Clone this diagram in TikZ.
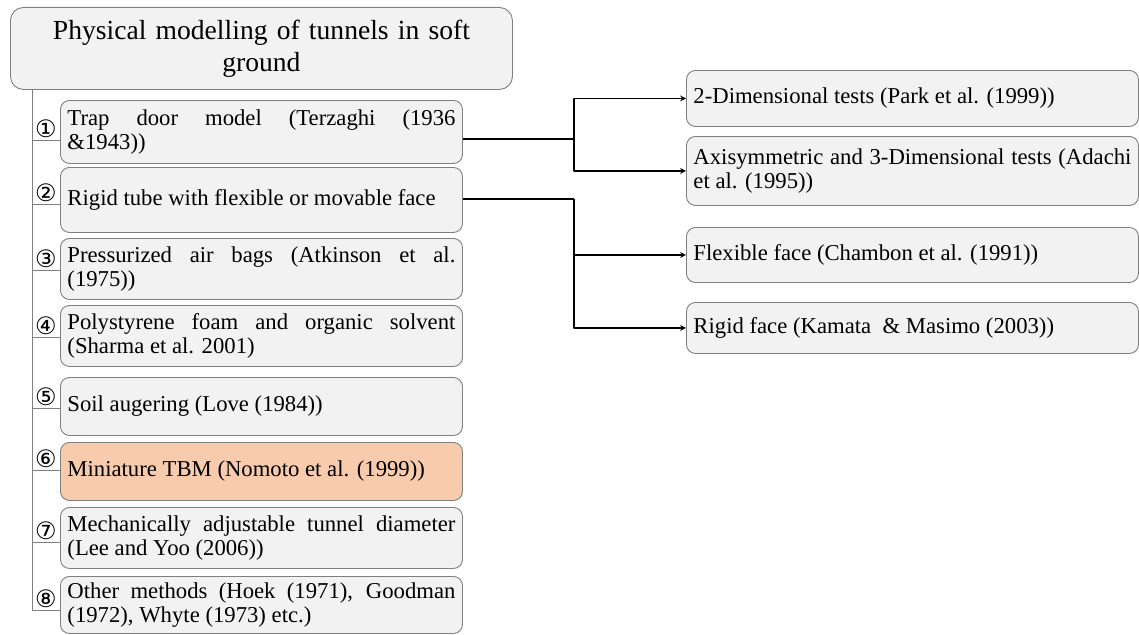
\documentclass[tikz,border=0pt]{standalone}
\usepackage{fontspec}
\setmainfont{Liberation Serif}
\newfontfamily\circfont{DejaVu Sans}
\usetikzlibrary{calc}
\definecolor{boxgray}{HTML}{F2F2F2}
\definecolor{edgegray}{HTML}{7F7F7F}
\definecolor{peach}{HTML}{F8CBAD}
\begin{document}
\begin{tikzpicture}[x=1pt,y=-1pt,>=stealth,line join=round,
    box/.style={draw=edgegray,fill=boxgray,line width=0.9pt,rounded corners=9pt,anchor=north west,
      align=justify,inner xsep=7pt,inner ysep=0pt,font=\fontsize{22.7}{24.5}\selectfont},
    titlebox/.style={box,rounded corners=13pt,align=center,text width=488pt,minimum height=82pt,
      font=\fontsize{27.6}{32}\selectfont},
    num/.style={inner sep=0pt,font=\circfont\fontsize{24}{24}\selectfont},
    tree/.style={draw=edgegray,line width=0.9pt},
    conn/.style={line width=1.6pt}]
  \useasboundingbox (0,0) rectangle (1139,634);
  % title
  \node[titlebox] (title) at (10,7) {Physical modelling of tunnels in soft\\ground};
  % methods
  \foreach \i/\t/\h/\ly/\c/\col/\txt in {
    1/100/63/140/①/boxgray/{Trap door model (Terzaghi (1936\linebreak \&1943))},
    2/167/65/204/②/boxgray/{Rigid tube with flexible or movable face},
    3/238/61/270/③/boxgray/{Pressurized air bags (Atkinson et al.\linebreak (1975))},
    4/305/61/337/④/boxgray/{Polystyrene foam and organic solvent\linebreak (Sharma et al. 2001)},
    5/377/58/408/⑤/boxgray/{Soil augering (Love (1984))},
    6/442/58/470/⑥/peach/{Miniature TBM (Nomoto et al. (1999))},
    7/507/61/542/⑦/boxgray/{Mechanically adjustable tunnel diameter\linebreak (Lee and Yoo (2006))},
    8/576/57/610/⑧/boxgray/{Other methods (Hoek (1971), Goodman\linebreak (1972), Whyte (1973) etc.)}}{
    \node[box,fill=\col,text width=388pt,minimum height=\h pt] (m\i) at (60,\t) {\txt};
    \coordinate (t\i) at (32,\ly);
    \draw[tree] (t\i) -- (t\i -| m\i.west);
    \node[num] (n\i) at (46,\ly-11) {\c};
  }
  \draw[tree] (title.south -| t1) -- (t8);
  % sub-methods
  \node[box,text width=438pt,minimum height=56pt] (r1) at (686,70) {2-Dimensional tests (Park et al. (1999))};
  \node[box,text width=438pt,minimum height=69pt] (r2) at (686,136) {Axisymmetric and 3-Dimensional tests (Adachi\linebreak et al. (1995))};
  \node[box,text width=438pt,minimum height=55pt] (r3) at (686,227) {Flexible face (Chambon et al. (1991))};
  \node[box,text width=438pt,minimum height=51pt] (r4) at (686,302) {Rigid face (Kamata\ \ \& Masimo (2003))};
  % branches
  \coordinate (j1) at (574,139);
  \coordinate (j2) at (574,199);
  \draw[conn] (m1.east |- j1) -- (j1);
  \draw[conn,->] (j1) |- (r1.west);
  \draw[conn,->] (j1) |- (r2.west);
  \draw[conn] (m2.east |- j2) -- (j2);
  \draw[conn,->] (j2) |- (r3.west);
  \draw[conn,->] (j2) |- (r4.west);
\end{tikzpicture}
\end{document}
